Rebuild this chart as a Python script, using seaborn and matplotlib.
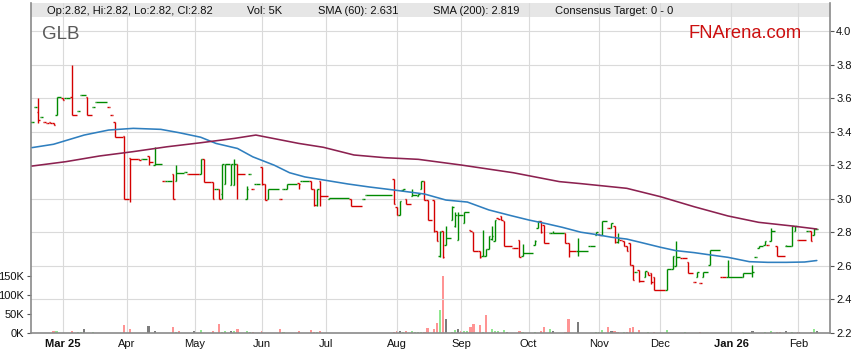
import pandas as pd
import matplotlib.pyplot as plt
from matplotlib.patches import Rectangle
import seaborn as sns

# ------------------------------------------------------------------
# GLB daily OHLC (only days with a visible bar; flat gaps are carried
# by the close tick running on to the next bar)
# ------------------------------------------------------------------
bar_date = [
    "2025-02-17", "2025-02-18", "2025-02-19", "2025-02-20", "2025-02-21", "2025-02-24", "2025-02-25",
    "2025-02-26", "2025-02-27",
    "2025-03-03", "2025-03-04", "2025-03-06", "2025-03-10", "2025-03-11", "2025-03-13", "2025-03-17",
    "2025-03-18", "2025-03-24", "2025-03-25", "2025-03-26", "2025-03-31",
    "2025-04-02", "2025-04-07", "2025-04-08", "2025-04-10", "2025-04-14", "2025-04-17", "2025-04-18",
    "2025-04-22", "2025-04-23", "2025-04-28", "2025-04-29",
    "2025-05-05", "2025-05-06", "2025-05-09", "2025-05-12", "2025-05-13", "2025-05-14", "2025-05-15",
    "2025-05-19", "2025-05-20", "2025-05-21", "2025-05-26", "2025-05-27", "2025-05-28", "2025-05-29",
    "2025-06-02", "2025-06-03", "2025-06-04", "2025-06-10", "2025-06-11", "2025-06-12", "2025-06-18",
    "2025-06-19", "2025-06-24", "2025-06-25", "2025-06-26", "2025-06-27",
    "2025-07-02", "2025-07-11", "2025-07-17", "2025-07-18", "2025-07-31",
    "2025-08-01", "2025-08-04", "2025-08-05", "2025-08-06", "2025-08-08", "2025-08-12", "2025-08-13",
    "2025-08-14", "2025-08-15", "2025-08-19", "2025-08-20", "2025-08-21", "2025-08-22", "2025-08-25",
    "2025-08-27", "2025-08-28", "2025-08-29",
    "2025-09-02", "2025-09-04", "2025-09-05", "2025-09-09", "2025-09-10", "2025-09-11", "2025-09-12",
    "2025-09-15", "2025-09-16", "2025-09-17", "2025-09-18", "2025-09-19", "2025-09-24", "2025-09-26",
    "2025-09-29",
    "2025-10-03", "2025-10-06", "2025-10-07", "2025-10-08", "2025-10-10", "2025-10-13", "2025-10-17",
    "2025-10-20", "2025-10-23", "2025-10-29", "2025-10-31",
    "2025-11-03", "2025-11-04", "2025-11-06", "2025-11-07", "2025-11-10", "2025-11-11", "2025-11-12",
    "2025-11-13", "2025-11-14", "2025-11-17", "2025-11-18", "2025-11-19", "2025-11-20", "2025-11-24",
    "2025-11-25", "2025-11-26", "2025-11-27",
    "2025-12-03", "2025-12-05", "2025-12-08", "2025-12-10", "2025-12-12", "2025-12-16", "2025-12-17",
    "2025-12-18", "2025-12-19", "2025-12-23", "2025-12-29", "2025-12-31",
    "2026-01-07", "2026-01-12", "2026-01-13", "2026-01-14", "2026-01-16", "2026-01-19", "2026-01-20",
    "2026-01-22", "2026-01-27", "2026-01-29", "2026-01-30",
    "2026-02-02", "2026-02-05", "2026-02-06", "2026-02-09", "2026-02-10",
]
bar_open = [
    3.46, 3.55, 3.52, 3.49, 3.46, 3.45, 3.455, 3.45, 3.50,
    3.60, 3.60, 3.61, 3.525, 3.62, 3.605, 3.55, 3.575, 3.55, 3.50, 3.46, 3.375,
    3.245, 3.24, 3.24, 3.255, 3.20, 3.105, 3.105, 3.15, 3.105, 3.16, 3.15,
    3.15, 3.235, 3.10, 3.055, 3.055, 3.03, 3.09, 3.08, 3.08, 3.21, 3.00, 3.15, 3.06, 3.085,
    3.19, 3.085, 3.00, 3.00, 3.055, 3.055, 3.095, 3.105, 3.105, 3.055, 2.96, 3.105,
    3.00, 3.00, 3.00, 3.02, 3.115,
    2.95, 2.90, 3.05, 3.00, 3.015, 3.015, 3.055, 3.105, 2.995, 2.995, 2.81, 2.66, 2.805, 2.725,
    2.875, 2.84, 2.755,
    2.855, 2.815, 2.80, 2.69, 2.655, 2.66, 2.70, 2.76, 2.75, 2.885, 2.895, 2.865, 2.705, 2.755, 2.66,
    2.725, 2.825, 2.865, 2.845, 2.795, 2.795, 2.795, 2.735, 2.69, 2.715, 2.785,
    2.79, 2.785, 2.825, 2.825, 2.835, 2.74, 2.755, 2.745, 2.715, 2.735, 2.605, 2.565, 2.575, 2.535,
    2.56, 2.555, 2.53,
    2.455, 2.58, 2.60, 2.645, 2.625, 2.50, 2.53, 2.495, 2.53, 2.605, 2.53, 2.53,
    2.53, 2.555, 2.65, 2.705, 2.725, 2.725, 2.745, 2.715, 2.72, 2.72, 2.81,
    2.755, 2.805, 2.805, 2.785, 2.82,
]
bar_high = [
    3.46, 3.55, 3.60, 3.49, 3.46, 3.45, 3.455, 3.45, 3.605,
    3.60, 3.60, 3.80, 3.525, 3.62, 3.605, 3.55, 3.575, 3.55, 3.50, 3.46, 3.375,
    3.245, 3.24, 3.24, 3.255, 3.31, 3.105, 3.105, 3.15, 3.20, 3.16, 3.15,
    3.235, 3.235, 3.10, 3.055, 3.055, 3.21, 3.21, 3.21, 3.235, 3.21, 3.075, 3.15, 3.06, 3.085,
    3.19, 3.085, 3.055, 3.00, 3.055, 3.085, 3.095, 3.105, 3.105, 3.055, 3.06, 3.105,
    3.002, 3.00, 3.00, 3.02, 3.115,
    2.95, 2.985, 3.06, 3.00, 3.055, 3.03, 3.105, 3.105, 2.995, 2.995, 2.81, 2.805, 2.805, 2.835,
    2.955, 2.92, 2.92,
    2.92, 2.815, 2.80, 2.69, 2.815, 2.70, 2.775, 2.835, 2.875, 2.885, 2.895, 2.865, 2.705, 2.755, 2.73,
    2.755, 2.865, 2.865, 2.845, 2.795, 2.805, 2.795, 2.735, 2.765, 2.715, 2.80,
    2.79, 2.865, 2.825, 2.855, 2.835, 2.795, 2.755, 2.745, 2.715, 2.735, 2.605, 2.565, 2.575, 2.57,
    2.56, 2.555, 2.53,
    2.58, 2.66, 2.745, 2.645, 2.625, 2.50, 2.56, 2.495, 2.56, 2.695, 2.53, 2.635,
    2.555, 2.605, 2.65, 2.715, 2.745, 2.725, 2.825, 2.715, 2.725, 2.835, 2.835,
    2.755, 2.805, 2.805, 2.825, 2.82,
]
bar_low = [
    3.46, 3.55, 3.45, 3.49, 3.46, 3.45, 3.45, 3.44, 3.50,
    3.59, 3.60, 3.50, 3.525, 3.62, 3.50, 3.55, 3.575, 3.55, 3.50, 3.37, 3.00,
    2.98, 3.23, 3.24, 3.20, 3.20, 3.105, 3.105, 3.00, 3.105, 3.16, 3.15,
    3.15, 3.10, 3.00, 3.055, 3.00, 3.00, 3.09, 3.08, 3.08, 3.00, 3.00, 3.15, 3.06, 3.085,
    3.08, 2.99, 3.00, 3.00, 3.055, 3.055, 3.055, 3.105, 3.055, 2.955, 2.955, 2.955,
    3.00, 2.955, 3.00, 3.02, 2.97,
    2.90, 2.90, 3.045, 2.97, 3.015, 3.015, 3.055, 2.995, 2.87, 2.80, 2.75, 2.65, 2.645, 2.725,
    2.875, 2.83, 2.755,
    2.855, 2.81, 2.69, 2.645, 2.655, 2.66, 2.70, 2.755, 2.75, 2.88, 2.87, 2.72, 2.705, 2.65, 2.66,
    2.725, 2.825, 2.795, 2.735, 2.795, 2.795, 2.735, 2.65, 2.66, 2.715, 2.785,
    2.785, 2.785, 2.825, 2.825, 2.735, 2.735, 2.755, 2.715, 2.685, 2.605, 2.515, 2.565, 2.505, 2.535,
    2.545, 2.49, 2.455,
    2.455, 2.58, 2.60, 2.645, 2.555, 2.50, 2.53, 2.495, 2.53, 2.605, 2.53, 2.53,
    2.53, 2.53, 2.65, 2.705, 2.725, 2.725, 2.745, 2.66, 2.715, 2.72, 2.81,
    2.755, 2.805, 2.745, 2.785, 2.82,
]
bar_close = [
    3.46, 3.55, 3.47, 3.49, 3.46, 3.45, 3.45, 3.44, 3.605,
    3.59, 3.60, 3.50, 3.525, 3.62, 3.50, 3.55, 3.575, 3.55, 3.50, 3.37, 3.00,
    3.24, 3.23, 3.24, 3.22, 3.205, 3.105, 3.105, 3.00, 3.155, 3.16, 3.15,
    3.235, 3.10, 3.00, 3.055, 3.00, 3.21, 3.21, 3.21, 3.21, 3.15, 3.06, 3.15, 3.06, 3.085,
    3.085, 2.99, 3.055, 3.00, 3.055, 3.085, 3.09, 3.105, 3.055, 2.96, 3.06, 3.015,
    3.002, 2.955, 3.00, 3.02, 2.97,
    2.90, 2.985, 3.06, 2.97, 3.02, 3.03, 3.105, 2.995, 2.87, 2.81, 2.75, 2.80, 2.65, 2.765,
    2.95, 2.90, 2.90,
    2.92, 2.81, 2.69, 2.65, 2.66, 2.70, 2.775, 2.78, 2.875, 2.88, 2.87, 2.72, 2.705, 2.65, 2.675,
    2.745, 2.865, 2.80, 2.735, 2.795, 2.795, 2.735, 2.69, 2.69, 2.715, 2.80,
    2.785, 2.865, 2.825, 2.855, 2.74, 2.76, 2.755, 2.715, 2.685, 2.605, 2.515, 2.565, 2.51, 2.57,
    2.545, 2.50, 2.455,
    2.58, 2.66, 2.65, 2.645, 2.555, 2.50, 2.56, 2.495, 2.56, 2.695, 2.53, 2.53,
    2.555, 2.56, 2.65, 2.715, 2.745, 2.725, 2.81, 2.66, 2.72, 2.835, 2.835,
    2.755, 2.805, 2.75, 2.82, 2.82,
]

# volume (thousands of shares) and day direction
vol_date = [
    "2025-02-26", "2025-02-27", "2025-03-06", "2025-03-10", "2025-03-11", "2025-03-12", "2025-03-17",
    "2025-03-31", "2025-04-02", "2025-04-10", "2025-04-14", "2025-04-22", "2025-04-23", "2025-04-24",
    "2025-05-01", "2025-05-05", "2025-05-09", "2025-05-13", "2025-05-14", "2025-05-15", "2025-05-19",
    "2025-05-20", "2025-05-21", "2025-05-26", "2025-05-27", "2025-05-28", "2025-06-02", "2025-06-10",
    "2025-06-11", "2025-06-18", "2025-06-24", "2025-06-25", "2025-06-26", "2025-06-27",
    "2025-07-31", "2025-08-01", "2025-08-04", "2025-08-05", "2025-08-06", "2025-08-08", "2025-08-11",
    "2025-08-12", "2025-08-13", "2025-08-14", "2025-08-15", "2025-08-19", "2025-08-20", "2025-08-21",
    "2025-08-22", "2025-08-25", "2025-08-27", "2025-08-28", "2025-08-29",
    "2025-09-01", "2025-09-02", "2025-09-03", "2025-09-04", "2025-09-05", "2025-09-09", "2025-09-10",
    "2025-09-11", "2025-09-15", "2025-09-16", "2025-09-17", "2025-09-19", "2025-09-22", "2025-09-26",
    "2025-09-29", "2025-10-03", "2025-10-07", "2025-10-08", "2025-10-10", "2025-10-13", "2025-10-17",
    "2025-10-20", "2025-10-23", "2025-10-31", "2025-11-03", "2025-11-04", "2025-11-06", "2025-11-07",
    "2025-11-10", "2025-11-11", "2025-11-13", "2025-11-14", "2025-11-17", "2025-11-18", "2025-11-20",
    "2025-11-25", "2025-11-27", "2025-12-03", "2025-12-11", "2025-12-18",
    "2026-01-07", "2026-01-12", "2026-01-16", "2026-01-20", "2026-01-22", "2026-01-23", "2026-01-27",
    "2026-01-29", "2026-02-02", "2026-02-06", "2026-02-09", "2026-02-10",
]
vol_k = [
    3.6, 5.4, 5.4, 2.7, 2.7, 10.7, 2.7,
    21.4, 10.7, 18.8, 3.6, 16.0, 2.7, 5.4,
    3.6, 8.0, 5.4, 22.3, 2.7, 5.4, 3.6,
    5.4, 10.7, 5.4, 2.7, 2.7, 5.4, 10.7,
    2.7, 5.4, 8.0, 2.7, 2.7, 5.4,
    2.7, 5.4, 3.6, 2.7, 5.4, 5.4, 2.7,
    2.7, 2.7, 2.7, 12.5, 9.8, 25.0, 60.7,
    150.0, 36.6, 2.7, 7.0, 9.8,
    3.6, 5.4, 5.4, 14.3, 23.0, 21.4, 2.7,
    48.0, 9.8, 5.4, 5.4, 7.0, 2.7, 5.4,
    2.7, 2.7, 5.4, 14.3, 10.7, 5.4, 2.7,
    36.6, 29.5, 2.7, 2.7, 7.0, 15.2, 5.4,
    5.4, 2.7, 2.7, 2.7, 12.5, 14.3, 8.0,
    2.7, 2.7, 8.0, 2.7, 2.7,
    2.7, 5.4, 2.7, 5.4, 2.7, 2.7, 5.4,
    2.7, 2.7, 2.7, 10.7, 5.0,
]
vol_dir = [
    "down", "up", "down", "up", "up", "flat", "up",
    "down", "down", "flat", "flat", "down", "up", "down",
    "flat", "up", "down", "down", "up", "up", "flat",
    "up", "down", "up", "up", "down", "down", "down",
    "up", "down", "down", "down", "up", "down",
    "down", "down", "flat", "up", "down", "up", "up",
    "up", "up", "down", "down", "down", "down", "up",
    "down", "flat", "up", "up", "flat",
    "down", "up", "up", "down", "down", "down", "up",
    "down", "up", "up", "up", "up", "flat", "down",
    "up", "up", "down", "down", "up", "flat", "down",
    "down", "flat", "up", "up", "up", "down", "flat",
    "down", "down", "up", "down", "down", "down", "down",
    "up", "down", "up", "up", "down",
    "up", "flat", "up", "up", "down", "down", "flat",
    "up", "down", "down", "up", "flat",
]

# moving averages, read roughly weekly off the curves
sma60_date = [
    "2025-02-17", "2025-02-26", "2025-03-12", "2025-03-24", "2025-04-03", "2025-04-16", "2025-04-24",
    "2025-05-05", "2025-05-12", "2025-05-21", "2025-05-28", "2025-06-06", "2025-06-13", "2025-06-20",
    "2025-06-30", "2025-07-10", "2025-07-21", "2025-07-31", "2025-08-14", "2025-08-25", "2025-09-03",
    "2025-09-12", "2025-09-23", "2025-10-01", "2025-10-09", "2025-10-16", "2025-10-24", "2025-10-30",
    "2025-11-07", "2025-11-14", "2025-11-21", "2025-12-01", "2025-12-08", "2025-12-16", "2025-12-23",
    "2025-12-31", "2026-01-09", "2026-01-19", "2026-01-27", "2026-02-04", "2026-02-10",
]
sma60 = [
    3.305, 3.325, 3.38, 3.41, 3.42, 3.414, 3.394,
    3.367, 3.33, 3.30, 3.25, 3.20, 3.155, 3.13,
    3.112, 3.088, 3.07, 3.052, 3.028, 2.992, 2.98,
    2.933, 2.90, 2.873, 2.85, 2.829, 2.80, 2.789,
    2.77, 2.759, 2.737, 2.71, 2.69, 2.678, 2.665,
    2.65, 2.624, 2.62, 2.62, 2.622, 2.631,
]
sma200_date = [
    "2025-02-17", "2025-03-04", "2025-03-19", "2025-04-03", "2025-04-18", "2025-05-05", "2025-05-20",
    "2025-05-29", "2025-06-09", "2025-06-18", "2025-06-30", "2025-07-14", "2025-07-28", "2025-08-12",
    "2025-09-01", "2025-09-24", "2025-10-15", "2025-10-24", "2025-11-14", "2025-12-01", "2025-12-16",
    "2025-12-31", "2026-01-14", "2026-01-29", "2026-02-10",
]
sma200 = [
    3.195, 3.221, 3.255, 3.281, 3.31, 3.334, 3.36,
    3.38, 3.355, 3.33, 3.307, 3.261, 3.245, 3.235,
    3.201, 3.155, 3.102, 3.09, 3.062, 3.012, 2.952,
    2.897, 2.859, 2.837, 2.819,
]

month_start = ["2025-03-03", "2025-04-01", "2025-05-01", "2025-06-02", "2025-07-01", "2025-08-01",
               "2025-09-01", "2025-10-01", "2025-11-03", "2025-12-01", "2026-01-01", "2026-02-02"]
month_label = ["Mar 25", "Apr", "May", "Jun", "Jul", "Aug", "Sep", "Oct", "Nov", "Dec", "Jan 26", "Feb"]
price_ticks = [2.2, 2.4, 2.6, 2.8, 3.0, 3.2, 3.4, 3.6, 3.8, 4.0]
vol_ticks = [0, 50, 100, 150]

legend_text = ["Op:2.82, Hi:2.82, Lo:2.82, Cl:2.82", "Vol: 5K", "SMA (60): 2.631",
               "SMA (200): 2.819", "Consensus Target: 0 - 0"]
legend_color = ["#008000", "#808080", "#1467a8", "#7d0f35", "#666699"]

GREEN = "#008a00"
RED = "#d40000"
VOL_COLOR = {"up": "#90e890", "down": "#ff9494", "flat": "#7c7c7c"}

# the x axis counts every weekday (one slot per business day)
days = pd.bdate_range("2025-02-17", "2026-02-16")


def slot(dates):
    return days.get_indexer(pd.to_datetime(dates))


sns.set_style("white")
plt.rcParams["font.family"] = ["Liberation Sans", "DejaVu Sans"]

W, H = 859, 363
fig = plt.figure(figsize=(W / 100, H / 100), dpi=100)
ax = fig.add_axes([30.7 / W, 1 - 332.7 / H, (830 - 30.7) / W, 330 / H])
axv = ax.twinx()
ax.yaxis.tick_right()
axv.yaxis.tick_left()
ax.set_zorder(2)
axv.set_zorder(1)
ax.patch.set_visible(False)

# volume underneath
axv.bar(slot(vol_date), vol_k, width=0.72, color=[VOL_COLOR[d] for d in vol_dir],
        linewidth=0)

# OHLC bars
pos = slot(bar_date)
nxt = list(pos[1:]) + [pos[-1] + 1]
end = [max(n - 0.5, p + 0.5) for p, n in zip(pos, nxt)]
prev = [bar_close[0]] + bar_close[:-1]
cols = []
for o, c, pc in zip(bar_open, bar_close, prev):
    up = c > o or (c == o and c >= pc)
    cols.append(GREEN if up else RED)
ax.vlines(pos, bar_low, bar_high, colors=cols, lw=1.0, zorder=3)
ax.hlines(bar_open, pos - 0.5, pos, colors=cols, lw=1.0, zorder=3)
ax.hlines(bar_close, pos, end, colors=cols, lw=1.0, zorder=3)

# moving averages
sns.lineplot(x=slot(sma60_date), y=sma60, ax=ax, color="#2f7fbf", lw=1.15, zorder=4)
sns.lineplot(x=slot(sma200_date), y=sma200, ax=ax, color="#8c2150", lw=1.15, zorder=4)

ax.set_xlim(-0.45, 260.3)
ax.set_ylim(2.2, 2.2 + 330 / 167.5)
axv.set_xlim(-0.45, 260.3)
axv.set_ylim(0, 150 * 330 / 56.7)

ax.set_yticks(price_ticks)
ax.set_yticklabels([f"{t:.1f}" for t in price_ticks])
axv.set_yticks(vol_ticks)
axv.set_yticklabels([f"{t}K" for t in vol_ticks])
ax.set_xticks(slot(month_start))
ax.set_xticklabels(month_label)
for lab in ax.get_xticklabels():
    if " " in lab.get_text():
        lab.set_fontweight("bold")
ax.set_xlabel("")
ax.set_ylabel("")

ax.grid(True, color="#dadada", lw=0.8)
ax.set_axisbelow(True)
ax.tick_params(axis="both", direction="out", length=3, width=0.8, color="#555555",
               labelsize=8, labelcolor="#111111", pad=1.5)
axv.tick_params(axis="y", direction="out", length=3, width=0.8, color="#555555",
                labelsize=8, labelcolor="#111111", pad=1.5)
for side in ["left", "right", "bottom"]:
    ax.spines[side].set_color("#8a8a8a")
    ax.spines[side].set_linewidth(1.2)
ax.spines["top"].set_visible(False)
for side in axv.spines:
    axv.spines[side].set_visible(False)

# legend band across the top of the plot
ax.add_patch(Rectangle((0, 1 - 14 / 330), 1, 14 / 330, transform=ax.transAxes,
                       facecolor="#e6e6e6", edgecolor="none", zorder=0))
sq_x = [35, 235.7, 306.7, 422.7, 544.3]
tx_x = [46.7, 246.7, 317.7, 433.3, 555]
for sx, tx, txt, col in zip(sq_x, tx_x, legend_text, legend_color):
    fig.add_artist(Rectangle((sx / W, 1 - 12.6 / H), 4.4 / W, 4.4 / H, transform=fig.transFigure,
                             facecolor=col, edgecolor="#333333", lw=0.5))
    fig.text(tx / W, 1 - 10.6 / H, txt, fontsize=8, va="center", ha="left", color="#111111")

fig.text(42.3 / W, 1 - 39.3 / H, "GLB", fontsize=13.5, color="#5a5a5a", va="baseline")
fig.text(688 / W, 1 - 38.3 / H, "FNArena.com", fontsize=13.2, color="#cc0f0f", va="baseline")

fig.savefig("out.png", dpi=100)
